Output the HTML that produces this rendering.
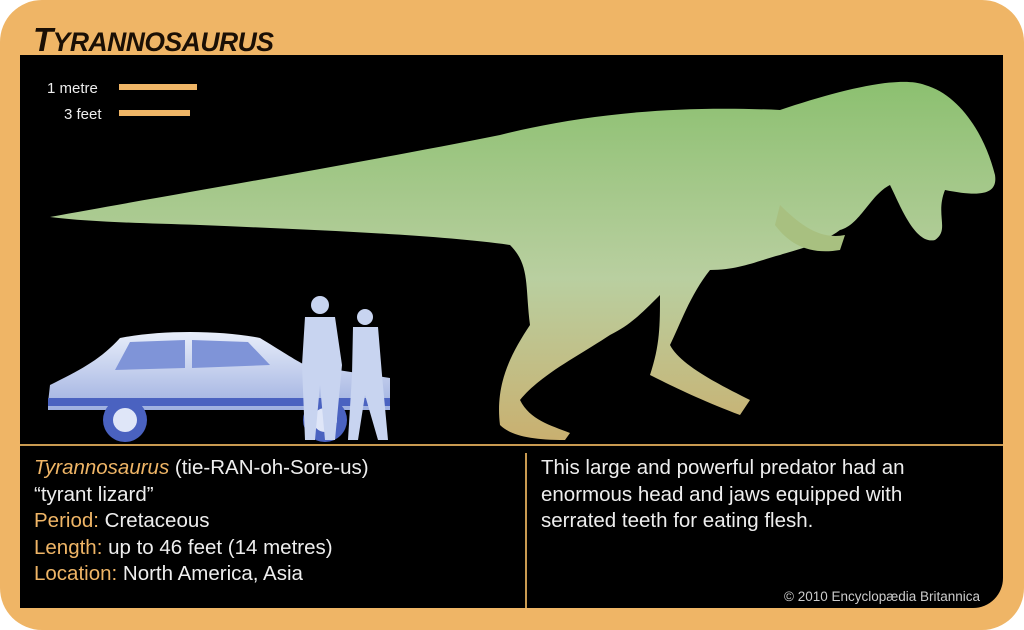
<!DOCTYPE html>
<html><head><meta charset="utf-8"><style>
html,body{margin:0;padding:0;background:#fff;}
#card{position:absolute;left:0;top:0;width:1024px;height:630px;background:#efb566;border-radius:42px;overflow:hidden;font-family:"Liberation Sans",sans-serif;}
#title{position:absolute;left:33px;top:21px;font-size:33px;font-weight:bold;font-style:italic;color:#1a0f05;letter-spacing:-0.5px;}
#title span{font-size:26.5px;}
#panel{position:absolute;left:20px;top:55px;width:983px;height:553px;background:#000;border-bottom-right-radius:30px;overflow:hidden;}
.t{position:absolute;color:#eee;font-size:20.5px;line-height:26.5px;}
.o{color:#efb566;}
</style></head><body>
<div id="card">
<div id="title">T<span>YRANNOSAURUS</span></div>
<div id="panel">
<svg width="983" height="553" style="position:absolute;left:0;top:0">
<defs>
<linearGradient id="g" x1="0" y1="0" x2="0" y2="1"><stop offset="0" stop-color="#8cc070"/><stop offset="0.55" stop-color="#b9cfa0"/><stop offset="1" stop-color="#c9b070"/></linearGradient>
<linearGradient id="c" x1="0" y1="0" x2="0" y2="1"><stop offset="0" stop-color="#e8eefa"/><stop offset="1" stop-color="#9fb0e0"/></linearGradient>
</defs>
<g>
<text x="27" y="38" fill="#eee" font-size="15" font-family="Liberation Sans">1 metre</text>
<rect x="99" y="29" width="78" height="6" fill="#efb566"/>
<text x="44" y="64" fill="#eee" font-size="15" font-family="Liberation Sans">3 feet</text>
<rect x="99" y="55" width="71" height="6" fill="#efb566"/>
</g>
<g>
<path d="M30,162 C150,140 330,110 480,80 C560,60 650,50 760,55 C820,35 880,20 905,30 C940,40 965,80 975,120 C978,140 960,142 925,135 C915,160 930,175 915,185 C895,190 880,150 870,130 C850,140 840,170 820,175 C800,190 775,195 760,200 C740,205 720,215 690,215 C670,240 660,270 650,290 C660,310 700,330 730,345 L720,360 C680,345 650,330 630,320 C640,290 640,270 640,240 C620,260 610,270 590,280 C560,300 520,320 500,345 C510,365 530,370 550,378 L545,385 C510,385 490,380 480,370 C475,330 490,300 510,270 C505,230 510,210 490,190 C420,180 300,175 180,170 C120,168 70,167 30,162 Z" fill="url(#g)"/>
<path d="M760,150 C780,170 800,185 825,180 L820,195 C790,200 770,190 755,170 Z" fill="#a8c080"/>
</g>
<g>
<path d="M28,348 L30,330 C60,315 80,305 100,283 C140,275 200,275 240,283 C260,295 275,305 285,310 L370,323 L370,355 L28,355 Z" fill="url(#c)"/>
<path d="M110,287 L165,285 L165,313 L95,315 Z M172,285 L228,287 L250,310 L172,313 Z" fill="#7f94d8"/>
<rect x="28" y="343" width="342" height="8" fill="#4a62c0"/>
<circle cx="105" cy="365" r="22" fill="#4a62c0"/><circle cx="105" cy="365" r="12" fill="#dfe6f8"/>
<circle cx="305" cy="365" r="22" fill="#4a62c0"/><circle cx="305" cy="365" r="12" fill="#dfe6f8"/>
</g>
<g fill="#c8d4f0">
<circle cx="300" cy="250" r="9"/><path d="M285,262 L315,262 L322,310 L315,385 L305,385 L300,330 L295,385 L285,385 L282,310 Z"/>
<circle cx="345" cy="262" r="8"/><path d="M333,272 L358,272 L362,320 L368,385 L358,385 L345,340 L338,385 L328,385 L332,320 Z"/>
</g>
<line x1="0" y1="390" x2="983" y2="390" stroke="#c99a50" stroke-width="2"/>
<line x1="506" y1="398" x2="506" y2="553" stroke="#c99a50" stroke-width="2"/>
</svg>
<div class="t" style="left:14px;top:400px;">
<i class="o">Tyrannosaurus</i> (tie-RAN-oh-Sore-us)<br>“tyrant lizard”<br><span class="o">Period:</span> Cretaceous<br><span class="o">Length:</span> up to 46 feet (14 metres)<br><span class="o">Location:</span> North America, Asia</div>
<div class="t" style="left:521px;top:400px;">This large and powerful predator had an<br>enormous head and jaws equipped with<br>serrated teeth for eating flesh.</div>
<div class="t" style="left:764px;top:534px;font-size:13.5px;line-height:16px;color:#ccc;">© 2010 Encyclopædia Britannica</div>
</div>
</div>
</body></html>
